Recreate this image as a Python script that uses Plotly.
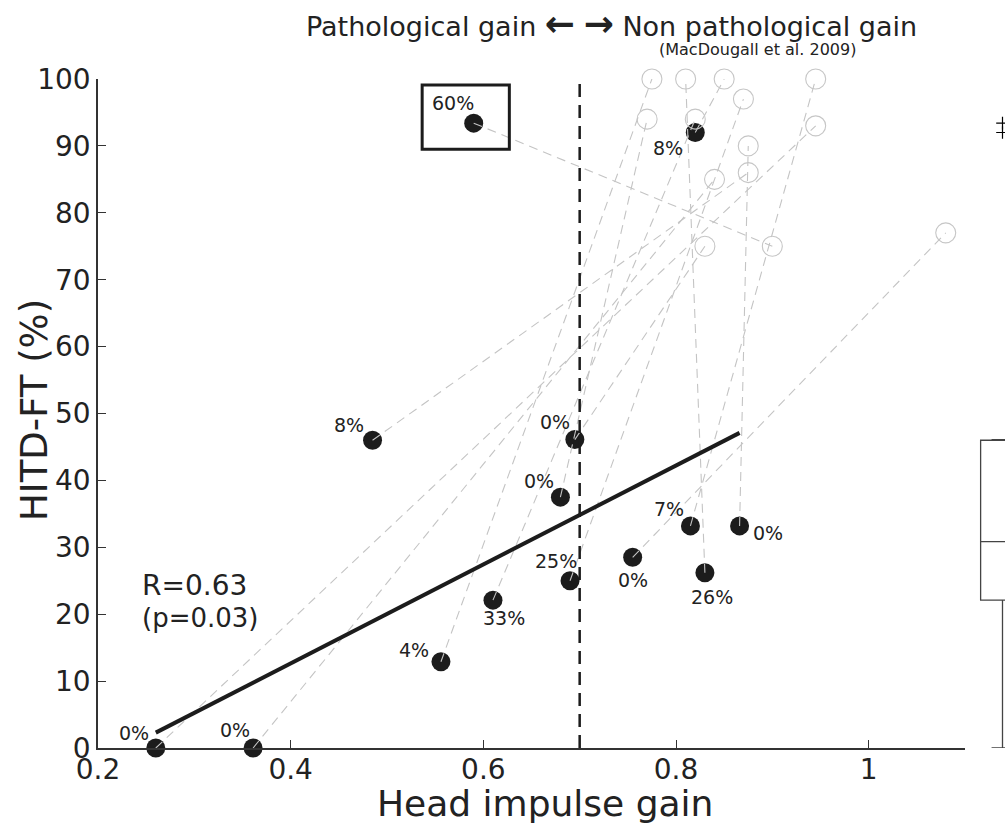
import numpy as np
import plotly.graph_objects as go

# ---------------- data ----------------
# pre-treatment (black dots): head impulse gain vs HITD-FT (%)
gain_pre = [0.26, 0.361, 0.485, 0.556, 0.59, 0.61, 0.68, 0.69, 0.695, 0.755, 0.815, 0.82, 0.83, 0.866]
hitd_pre = [0, 0, 46, 12.9, 93.4, 22.1, 37.5, 25, 46.1, 28.5, 33.2, 92, 26.2, 33.2]
pct_labels = ["0%", "0%", "8%", "4%", "60%", "33%", "0%", "25%", "0%", "0%", "7%", "8%", "26%", "0%"]
# paired follow-up values (grey open circles)
gain_post = [0.945, 0.84, 0.875, 0.775, 0.90, 0.82, 0.77, 0.87, 0.83, 1.08, 0.945, 0.85, 0.81, 0.875]
hitd_post = [93, 85, 86, 100, 75, 94, 94, 97, 75, 77, 100, 100, 100, 90]
boxed_index = 4                 # outlier highlighted with a rectangle, excluded from fit
gain_cutoff = 0.7               # MacDougall et al. 2009 threshold
stat_r = "R=0.63"
stat_p = "(p=0.03)"
x_ticks = [0.2, 0.4, 0.6, 0.8, 1.0]
x_ticklabels = ["0.2", "0.4", "0.6", "0.8", "1"]
y_ticks = list(range(0, 101, 10))

# ---------------- layout helpers ----------------
W, H = 1005, 824
L, T = 98, 79
B = H - 748
R = 0
PW, PH = W - L - R, H - T - B
FONT = "DejaVu Sans"
INK = "#1c1c1c"


def px_x(px):
    return (px - L) / PW


def px_y(py):
    return (H - B - py) / PH


# label offsets in pixels (dx right, dy down) relative to each black dot
label_offsets = [(-22, -15), (-18, -18), (-24, -15), (-27, -12), (-21, -20), (11, 18), (-21, -16),
                 (-14, -20), (-20, -18), (0, 23), (-21, -17), (-27, 15), (7, 24), (28, 7)]

fig = go.Figure()

# black pre dots
fig.add_trace(go.Scatter(x=gain_pre, y=hitd_pre, mode="markers",
                         marker=dict(size=19, color=INK, line=dict(width=0)),
                         cliponaxis=False, showlegend=False, hoverinfo="skip"))

# connectors
cx, cy = [], []
for a, b, c, d in zip(gain_pre, hitd_pre, gain_post, hitd_post):
    cx += [a, c, None]
    cy += [b, d, None]
fig.add_trace(go.Scatter(x=cx, y=cy, mode="lines",
                         line=dict(color="#c4c4c4", width=1.1, dash="9px,6px"),
                         cliponaxis=False, showlegend=False, hoverinfo="skip"))

# grey follow-up circles
fig.add_trace(go.Scatter(x=gain_post, y=hitd_post, mode="markers",
                         marker=dict(size=20, symbol="circle-open", color="#c6c6c6", line=dict(width=1.1)),
                         cliponaxis=False, showlegend=False, hoverinfo="skip"))

# regression (excluding boxed outlier)
xs = np.array([g for i, g in enumerate(gain_pre) if i != boxed_index])
ys = np.array([h for i, h in enumerate(hitd_pre) if i != boxed_index])
slope, intercept = np.polyfit(xs, ys, 1)
fx = np.array([xs.min(), xs.max()])
fig.add_trace(go.Scatter(x=fx, y=slope * fx + intercept, mode="lines",
                         line=dict(color=INK, width=4), showlegend=False, hoverinfo="skip"))

# cutoff line
fig.add_trace(go.Scatter(x=[gain_cutoff, gain_cutoff], y=[0, 100], mode="lines",
                         line=dict(color=INK, width=2.5, dash="13px,8px"),
                         showlegend=False, hoverinfo="skip"))

# box plot of pre values on the right (partially cut off)
fig.add_trace(go.Box(y=hitd_pre, x0=0, xaxis="x2", yaxis="y", boxpoints="outliers",
                     quartilemethod="exclusive", width=0.875, whiskerwidth=0.5,
                     line=dict(color="#444444", width=1.3), fillcolor="white",
                     marker=dict(symbol="cross-thin", size=9, color="black",
                                 line=dict(color="black", width=1.2)),
                     showlegend=False, hoverinfo="skip"))

# rectangle around outlier
ox, oy = gain_pre[boxed_index], hitd_pre[boxed_index]
fig.add_shape(type="rect", xref="x", yref="y", x0=ox - 0.0535, x1=ox + 0.037,
              y0=oy - 3.9, y1=oy + 5.7, line=dict(color=INK, width=3))

# percentage labels
for g, h, t, (dx, dy) in zip(gain_pre, hitd_pre, pct_labels, label_offsets):
    fig.add_annotation(x=g, y=h, xref="x", yref="y", text=t, showarrow=False,
                       xanchor="center", yanchor="middle",
                       xshift=dx, yshift=-dy, font=dict(family=FONT, size=19, color="#222"))


def paper_text(px, py, text, size, xanchor="center", **kw):
    fig.add_annotation(x=px_x(px), y=px_y(py), xref="paper", yref="paper", text=text,
                       showarrow=False, xanchor=xanchor, yanchor="middle",
                       font=dict(family=FONT, size=size, color="#222"), **kw)


# stats
paper_text(140, 585, stat_r, 28, xanchor="left")
paper_text(140, 618, stat_p, 26, xanchor="left")

# header
arrow = '<span style="font-size:36px"><b>{}</b></span>'
paper_text(611, 23, "Pathological gain " + arrow.format("←") + " " + arrow.format("→")
           + " Non pathological gain", 27)
paper_text(757, 49, "(MacDougall et al. 2009)", 16)

# axis titles
paper_text(545, 803, "Head impulse gain", 36)
paper_text(35, 410, "HITD-FT (%)", 37, textangle=-90)

main_end = (965 - L) / PW
axis_style = dict(showgrid=False, zeroline=False, showline=True, linecolor="#333",
                  linewidth=1.5, ticks="inside", ticklen=8, tickcolor="#333", tickwidth=1.2,
                  tickfont=dict(family=FONT, size=28, color="#222"))

fig.update_layout(
    width=W, height=H,
    margin=dict(l=L, r=R, t=T, b=B),
    plot_bgcolor="white", paper_bgcolor="white",
    xaxis=dict(domain=[0, main_end], range=[0.2, 1.1], tickvals=x_ticks,
               ticktext=x_ticklabels, ticklabelstandoff=-4, **axis_style),
    yaxis=dict(range=[0, 100], tickvals=y_ticks, **axis_style),
    xaxis2=dict(domain=[main_end, 1], range=[-0.75, 0.05], anchor="y", visible=False),
    showlegend=False,
)

fig.write_html("out.html", config={"displayModeBar": False},
               post_script="document.body.style.margin='0px';"
                           "document.body.style.overflow='hidden';")
